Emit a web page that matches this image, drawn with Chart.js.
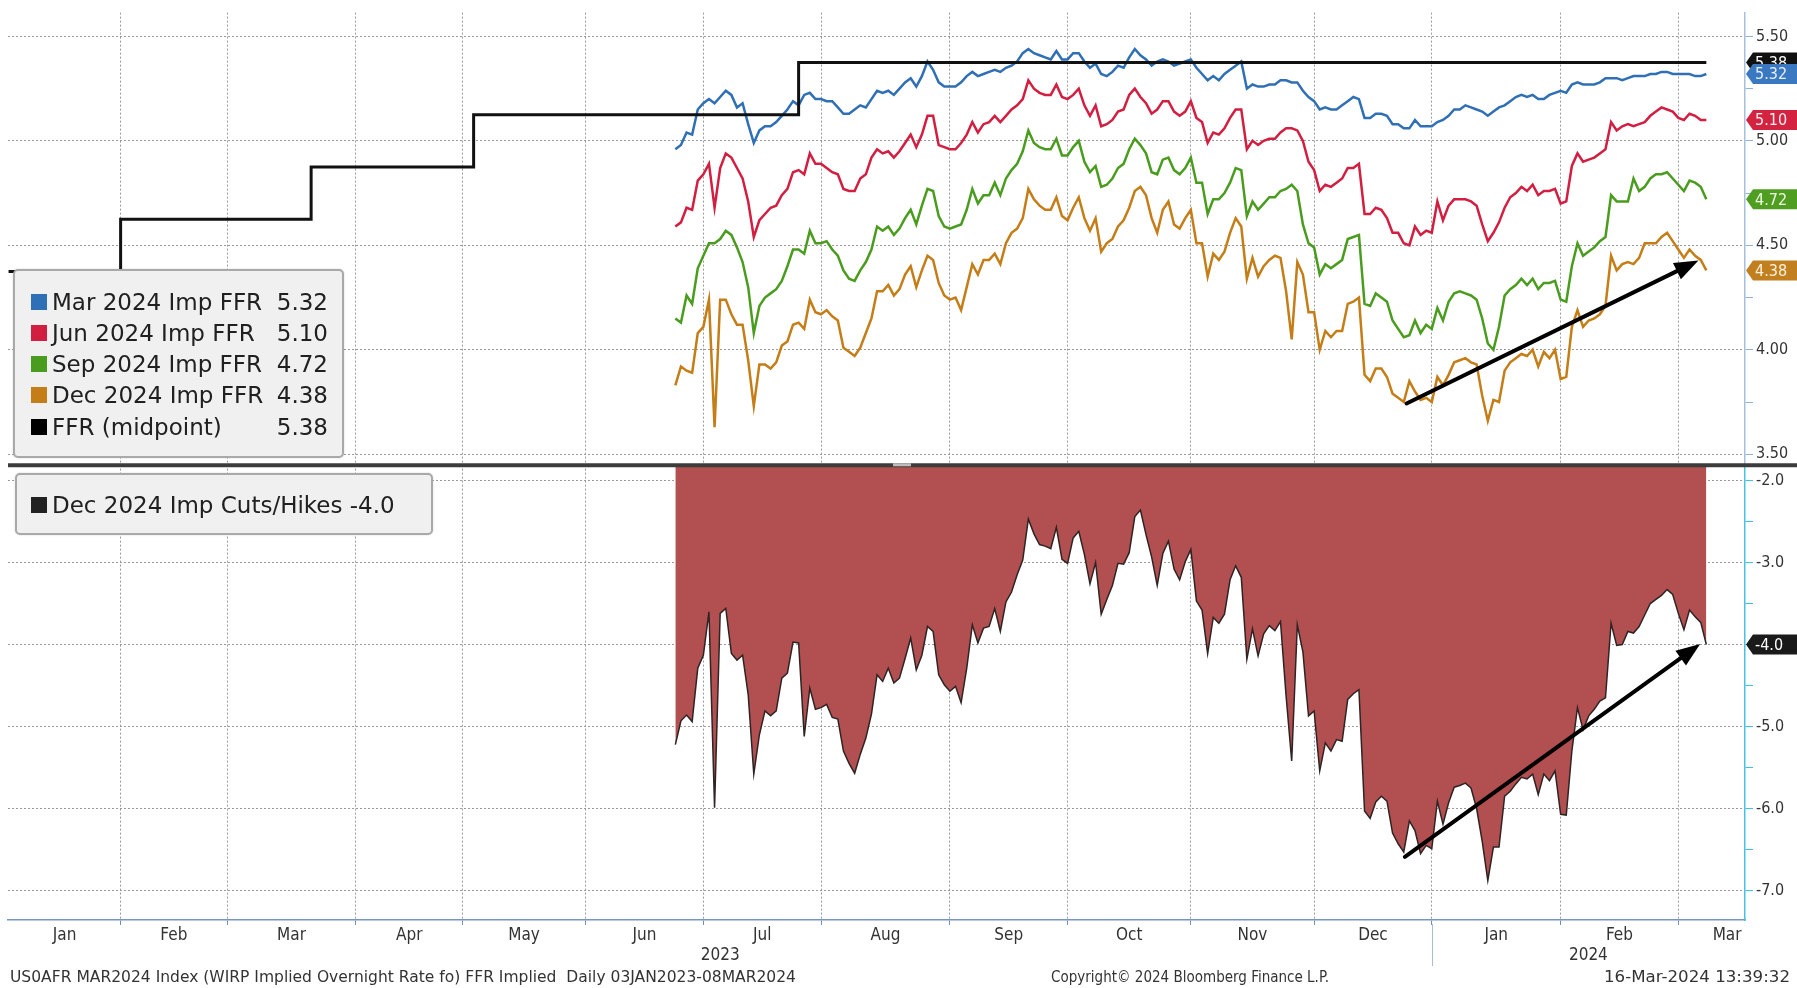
<!DOCTYPE html>
<html>
<head>
<meta charset="utf-8">
<title>WIRP Implied FFR</title>
<script src="https://cdn.jsdelivr.net/npm/chart.js@4.4.1/dist/chart.umd.min.js"></script>
<style>
  html, body { margin:0; padding:0; background:#ffffff; }
  #wrap { position:relative; width:1797px; height:988px; overflow:hidden; background:#fff; }
  #chart { position:absolute; left:0; top:0; }
  .legend { position:absolute; box-sizing:border-box; background:#f0f0f0; border:2px solid #a9a9a9; border-radius:5px;
            box-shadow:0 0 2px rgba(0,0,0,0.18); font-family:"DejaVu Sans", sans-serif; font-size:23px; color:#202020; }
  .row { position:absolute; height:31px; display:flex; align-items:center; white-space:nowrap; }
  .sw { width:16px; height:16px; margin-right:5px; flex:none; }
  .lbl { flex:1; }
  .val { flex:none; }
  .foot { position:absolute; top:968px; height:18px; line-height:18px; font-family:"DejaVu Sans Condensed","DejaVu Sans",sans-serif;
          font-size:15px; color:#333; white-space:nowrap; transform-origin:0 50%; }
</style>
</head>
<body>
<div id="wrap">
  <canvas id="chart" width="1797" height="988"></canvas>
  <div id="legendTop" class="legend" style="left:13px;top:269px;width:331px;height:189px;"></div>
  <div id="legendBottom" class="legend" style="left:15px;top:473px;width:418px;height:62px;"></div>
  <div class="foot" data-w="786" style="left:10px;">US0AFR MAR2024 Index (WIRP Implied Overnight Rate fo) FFR Implied&nbsp; Daily 03JAN2023-08MAR2024</div>
  <div class="foot" data-w="278" style="left:1051px;">Copyright© 2024 Bloomberg Finance L.P.</div>
  <div class="foot" data-w="186" style="left:1604px;">16-Mar-2024 13:39:32</div>
</div>
<script>
// ---------------- DATA ----------------
// x values are trading-day indices counted from 03-Jan-2023 (= 0)
const monthNames  = ['Jan','Feb','Mar','Apr','May','Jun','Jul','Aug','Sep','Oct','Nov','Dec','Jan','Feb','Mar'];
const monthStarts = [0, 20, 39, 62, 81, 103, 124, 145, 168, 189, 211, 233, 254, 277, 298];
const nextMonthStart = 319;            // 01-Apr-2024
const yearNames  = ['2023', '2024'];
const yearStarts = [0, 254];

// FFR (midpoint) step series
const ffrDays   = [0, 20, 54, 83, 141, 303];
const ffrValues = [4.375, 4.625, 4.875, 5.125, 5.375, 5.375];

// Futures-implied series: daily values starting 26-Jun-2023 (index 119) to 08-Mar-2024 (index 303)
const futuresStartDay = 119;
const marValues = [
4.96,4.98,5.04,5.03,5.15,5.18,5.20,5.18,5.21,5.24,
5.22,5.16,5.18,5.08,4.99,5.05,5.07,5.07,5.09,5.12,
5.15,5.19,5.17,5.22,5.23,5.20,5.20,5.19,5.19,5.16,
5.13,5.13,5.15,5.17,5.16,5.20,5.24,5.23,5.24,5.22,
5.25,5.28,5.30,5.26,5.31,5.38,5.34,5.28,5.26,5.26,
5.26,5.28,5.31,5.33,5.31,5.32,5.33,5.34,5.33,5.35,
5.36,5.38,
5.42,5.44,5.42,5.41,5.40,5.39,5.43,5.39,
5.39,5.42,5.42,5.38,5.35,5.37,5.32,5.31,5.33,5.36,
5.35,5.40,5.44,5.41,5.39,5.36,5.38,5.39,5.38,5.36,
5.37,5.38,5.39,5.35,5.32,5.29,5.31,5.29,5.32,5.34,
5.36,5.38,5.25,5.27,5.26,5.26,5.27,5.27,5.29,5.29,
5.28,5.28,5.24,5.21,5.19,5.15,5.16,5.15,5.15,5.17,
5.19,5.21,5.20,5.11,5.11,
5.13,5.13,5.12,5.08,5.08,
5.06,5.06,5.10,5.07,5.07,5.07,5.09,5.10,5.12,5.15,
5.15,5.17,5.16,5.15,5.14,5.12,5.14,5.16,5.17,5.19,
5.21,5.22,5.21,5.22,5.20,5.20,5.22,5.23,5.24,5.23,
5.27,5.28,5.27,5.27,5.27,5.28,5.30,5.30,5.30,5.29,
5.30,5.31,5.31,5.31,5.32,5.32,5.33,5.33,5.32,5.32,
5.32,5.32,5.31,5.31,5.32];
const junValues = [
4.59,4.61,4.68,4.67,4.81,4.84,4.89,4.68,4.87,4.94,
4.92,4.87,4.82,4.71,4.54,4.62,4.65,4.68,4.69,4.74,
4.77,4.85,4.86,4.84,4.94,4.89,4.89,4.87,4.85,4.84,
4.77,4.76,4.76,4.82,4.84,4.92,4.96,4.94,4.95,4.92,
4.95,4.99,5.03,4.97,5.03,5.12,5.12,4.98,4.97,4.96,
4.96,4.99,5.03,5.09,5.04,5.08,5.09,5.12,5.09,5.12,
5.15,5.17,
5.20,5.29,5.25,5.23,5.22,5.22,5.27,5.21,
5.20,5.22,5.25,5.17,5.12,5.17,5.07,5.08,5.10,5.14,
5.15,5.22,5.25,5.21,5.18,5.13,5.15,5.19,5.19,5.14,
5.12,5.14,5.19,5.11,5.09,4.99,5.04,5.03,5.06,5.11,
5.15,5.15,4.96,5.00,4.98,5.00,5.01,5.01,5.04,5.06,
5.06,5.05,5.00,4.90,4.86,4.76,4.79,4.78,4.80,4.82,
4.87,4.87,4.89,4.65,4.65,
4.68,4.67,4.63,4.56,4.56,
4.51,4.50,4.59,4.55,4.57,4.56,4.71,4.62,4.69,4.72,
4.72,4.72,4.71,4.69,4.60,4.52,4.56,4.61,4.68,4.73,
4.75,4.78,4.76,4.79,4.74,4.76,4.76,4.77,4.70,4.71,
4.88,4.94,4.90,4.91,4.92,4.94,4.96,5.09,5.05,5.07,
5.08,5.07,5.08,5.09,5.12,5.14,5.16,5.15,5.14,5.11,
5.10,5.13,5.12,5.10,5.10];
const sepValues = [
4.15,4.13,4.26,4.22,4.39,4.45,4.51,4.51,4.53,4.57,
4.55,4.49,4.42,4.30,4.08,4.21,4.25,4.27,4.29,4.33,
4.40,4.48,4.48,4.46,4.57,4.51,4.51,4.52,4.48,4.45,
4.38,4.34,4.33,4.38,4.42,4.48,4.59,4.57,4.59,4.55,
4.58,4.63,4.67,4.60,4.69,4.77,4.76,4.64,4.59,4.58,
4.59,4.60,4.67,4.77,4.70,4.74,4.74,4.80,4.74,4.82,
4.86,4.89,
4.95,5.05,4.99,4.97,4.96,4.96,5.01,4.93,
4.93,4.97,5.00,4.90,4.85,4.88,4.78,4.79,4.82,4.87,
4.89,4.96,5.01,4.98,4.94,4.85,4.84,4.91,4.92,4.86,
4.84,4.87,4.92,4.80,4.80,4.65,4.72,4.72,4.75,4.80,
4.87,4.86,4.64,4.71,4.67,4.70,4.73,4.73,4.76,4.77,
4.79,4.76,4.60,4.51,4.49,4.36,4.41,4.39,4.41,4.43,
4.53,4.54,4.55,4.22,4.21,
4.27,4.25,4.23,4.14,4.10,
4.06,4.07,4.14,4.08,4.12,4.10,4.20,4.14,4.23,4.27,
4.28,4.27,4.26,4.24,4.15,4.03,4.00,4.11,4.26,4.29,
4.31,4.34,4.31,4.34,4.29,4.32,4.32,4.33,4.24,4.23,
4.40,4.51,4.45,4.47,4.49,4.52,4.54,4.74,4.71,4.71,
4.71,4.82,4.76,4.78,4.82,4.84,4.84,4.85,4.82,4.79,
4.76,4.81,4.80,4.78,4.72];
const decValues = [
3.83,3.92,3.90,3.89,4.08,4.11,4.24,3.63,4.24,4.24,
4.17,4.12,4.12,3.95,3.73,3.93,3.93,3.91,3.94,4.02,
4.04,4.12,4.13,4.10,4.24,4.18,4.17,4.19,4.16,4.14,
4.01,3.99,3.97,4.01,4.08,4.15,4.28,4.28,4.31,4.26,
4.29,4.36,4.40,4.30,4.38,4.45,4.43,4.32,4.26,4.24,
4.25,4.19,4.30,4.41,4.36,4.43,4.43,4.46,4.41,4.51,
4.56,4.58,
4.63,4.77,4.72,4.69,4.67,4.67,4.73,4.64,
4.62,4.68,4.73,4.63,4.57,4.63,4.47,4.51,4.53,4.59,
4.62,4.68,4.76,4.78,4.74,4.63,4.56,4.67,4.71,4.60,
4.58,4.63,4.67,4.51,4.51,4.35,4.46,4.43,4.47,4.56,
4.63,4.59,4.34,4.44,4.35,4.40,4.43,4.45,4.44,4.28,
4.05,4.42,4.36,4.18,4.18,4.00,4.09,4.06,4.09,4.09,
4.22,4.23,4.25,3.88,3.85,
3.91,3.91,3.87,3.79,3.77,
3.75,3.85,3.80,3.76,3.77,3.75,3.87,3.83,3.88,3.94,
3.95,3.96,3.94,3.93,3.78,3.66,3.76,3.75,3.90,3.94,
3.96,3.98,3.97,4.00,3.92,3.99,3.96,4.00,3.86,3.87,
4.11,4.19,4.11,4.14,4.15,4.17,4.21,4.45,4.38,4.41,
4.42,4.41,4.44,4.51,4.51,4.51,4.54,4.56,4.52,4.48,
4.44,4.48,4.45,4.43,4.38];
// Dec 2024 implied cuts/hikes (number of 25bp moves), same days
const cutsValues = [
-5.22,-4.93,-4.86,-4.94,-4.29,-4.13,-3.60,-5.99,-3.62,-3.56,
-4.11,-4.19,-4.13,-4.61,-5.58,-5.10,-4.81,-4.87,-4.81,-4.41,
-4.35,-3.97,-3.98,-5.12,-4.53,-4.79,-4.77,-4.73,-4.89,-4.91,
-5.30,-5.45,-5.57,-5.34,-5.14,-4.85,-4.37,-4.45,-4.29,-4.47,
-4.41,-4.17,-3.92,-4.31,-4.13,-3.78,-3.84,-4.37,-4.49,-4.57,
-4.51,-4.71,-4.29,-3.76,-3.98,-3.80,-3.78,-3.56,-3.84,-3.48,
-3.36,-3.15,
-2.97,-2.47,-2.65,-2.78,-2.80,-2.83,-2.57,-2.96,
-3.01,-2.70,-2.62,-2.90,-3.26,-3.00,-3.63,-3.45,-3.28,-3.01,
-3.02,-2.88,-2.44,-2.36,-2.66,-2.93,-3.28,-2.89,-2.74,-3.08,
-3.21,-2.99,-2.84,-3.47,-3.58,-4.11,-3.67,-3.74,-3.63,-3.21,
-3.04,-3.18,-4.18,-3.81,-4.14,-3.87,-3.77,-3.83,-3.72,-4.63,
-5.42,-3.76,-4.09,-4.87,-4.81,-5.54,-5.20,-5.30,-5.16,-5.18,
-4.67,-4.60,-4.55,-6.03,-6.12,
-5.92,-5.85,-5.91,-6.30,-6.43,
-6.53,-6.15,-6.27,-6.55,-6.45,-6.49,-5.91,-6.19,-5.93,-5.74,
-5.72,-5.69,-5.75,-6.00,-6.40,-6.88,-6.47,-6.47,-5.85,-5.79,
-5.70,-5.62,-5.64,-5.58,-5.83,-5.58,-5.66,-5.54,-6.07,-6.08,
-5.30,-4.77,-5.04,-4.87,-4.79,-4.69,-4.65,-3.74,-4.01,-4.00,
-3.84,-3.86,-3.78,-3.64,-3.50,-3.45,-3.40,-3.33,-3.39,-3.62,
-3.82,-3.58,-3.66,-3.73,-4.00];

// Axis tick values
const topTickValues    = [3.5, 3.75, 4.0, 4.25, 4.5, 4.75, 5.0, 5.25, 5.5];
const bottomTickValues = [-7, -6.5, -6, -5.5, -5, -4.5, -4, -3.5, -3, -2.5, -2];

// Hand-drawn trend arrows (in data coordinates: [trading day, value])
const arrowTop    = { from: [249.5, 3.743], to: [301.6, 4.427] };
const arrowBottom = { from: [249.2, -6.59], to: [301.9, -3.995] };

// ---------------- STYLES ----------------
const C = { mar:'#2f6fb6', jun:'#d21e40', sep:'#4a9c1e', dec:'#c47d17', ffr:'#111111',
            area:'#b24f50', areaLine:'#2e2424', grid:'#9a9a9a' };
const X_MIN = -0.1, X_MAX = 309.9;
const FONT = '"DejaVu Sans Condensed", "DejaVu Sans", sans-serif';

const toPts = (vals) => vals.map((v, i) => ({ x: futuresStartDay + i, y: v }));
const ffrPts = ffrDays.map((d, i) => ({ x: d, y: ffrValues[i] }));

// x ticks: month boundaries (grid) + month centres & year centres (labels)
const boundarySet = new Set(monthStarts.slice(1));
const labelMap = new Map();
monthStarts.forEach((s, i) => {
  const next = i + 1 < monthStarts.length ? monthStarts[i + 1] : nextMonthStart;
  const c = Math.min((s + next) / 2, X_MAX - 3.2);
  labelMap.set(c, monthNames[i]);
});
yearStarts.forEach((s, i) => {
  const e = i + 1 < yearStarts.length ? yearStarts[i + 1] : X_MAX;
  labelMap.set((s + e) / 2, ['', yearNames[i]]);
});
const xTickValues = [...boundarySet, ...labelMap.keys()].sort((a, b) => a - b);

Chart.defaults.font.family = FONT;

// ---------------- PLUGINS ----------------
const separatorPlugin = {
  id: 'separator',
  afterDatasetsDraw(chart) {
    const { ctx } = chart; const y = chart.scales.y.bottom;
    ctx.save();
    ctx.strokeStyle = '#3c3c3c'; ctx.lineWidth = 4;
    ctx.beginPath(); ctx.moveTo(chart.chartArea.left, y); ctx.lineTo(chart.width, y); ctx.stroke();
    ctx.fillStyle = '#bdbdbd'; ctx.fillRect(893, y - 2, 18, 3);
    ctx.restore();
  }
};
const arrowPlugin = {
  id: 'arrows',
  afterDatasetsDraw(chart) {
    const { ctx } = chart; const xs = chart.scales.x;
    [[arrowTop, 'y'], [arrowBottom, 'y2']].forEach(([a, ax]) => {
      const ys = chart.scales[ax];
      const x1 = xs.getPixelForValue(a.from[0]), y1 = ys.getPixelForValue(a.from[1]);
      const x2 = xs.getPixelForValue(a.to[0]),   y2 = ys.getPixelForValue(a.to[1]);
      const ang = Math.atan2(y2 - y1, x2 - x1), L = 24, W = 9;
      const bx = x2 - L * Math.cos(ang), by = y2 - L * Math.sin(ang);
      ctx.save();
      ctx.strokeStyle = '#000'; ctx.fillStyle = '#000'; ctx.lineWidth = 4; ctx.lineCap = 'round';
      ctx.beginPath(); ctx.moveTo(x1, y1); ctx.lineTo(bx, by); ctx.stroke();
      ctx.beginPath(); ctx.moveTo(x2, y2);
      ctx.lineTo(bx + W * Math.sin(ang), by - W * Math.cos(ang));
      ctx.lineTo(bx - W * Math.sin(ang), by + W * Math.cos(ang));
      ctx.closePath(); ctx.fill();
      ctx.restore();
    });
  }
};
const tagPlugin = {
  id: 'tags',
  afterDraw(chart) {
    const { ctx } = chart; const x0 = chart.chartArea.right + 1; const W = chart.width;
    const tags = [
      { ax:'y',  v: ffrValues[ffrValues.length - 1], bg:'#111111', fg:'#ffffff', d:2 },
      { ax:'y',  v: marValues[marValues.length - 1], bg:'#3a78c2', fg:'#e4efff', d:2 },
      { ax:'y',  v: junValues[junValues.length - 1], bg:'#d42341', fg:'#ffeef0', d:2 },
      { ax:'y',  v: sepValues[sepValues.length - 1], bg:'#4f9e21', fg:'#eeffe4', d:2 },
      { ax:'y',  v: decValues[decValues.length - 1], bg:'#c27f1f', fg:'#fff2de', d:2 },
      { ax:'y2', v: cutsValues[cutsValues.length - 1], bg:'#1a1a1a', fg:'#ffffff', d:1 }
    ];
    ctx.save();
    ctx.font = '16px ' + FONT;
    ctx.textBaseline = 'middle'; ctx.textAlign = 'left';
    tags.forEach(t => {
      const y = chart.scales[t.ax].getPixelForValue(t.v);
      ctx.fillStyle = t.bg;
      ctx.beginPath();
      ctx.moveTo(x0, y); ctx.lineTo(x0 + 7, y - 10); ctx.lineTo(W, y - 10);
      ctx.lineTo(W, y + 10); ctx.lineTo(x0 + 7, y + 10); ctx.closePath(); ctx.fill();
      ctx.fillStyle = t.fg;
      ctx.fillText(t.v.toFixed(t.d), x0 + 9, y + 1);
    });
    // year divider under the axis
    const xd = chart.scales.x.getPixelForValue(yearStarts[1]);
    ctx.strokeStyle = '#a9bdd3'; ctx.lineWidth = 1;
    ctx.beginPath(); ctx.moveTo(Math.round(xd) + 0.5, 924); ctx.lineTo(Math.round(xd) + 0.5, 966); ctx.stroke();
    ctx.restore();
  }
};

// ---------------- CHART ----------------
const lineDs = (label, vals, color, order) => ({
  label, data: toPts(vals), yAxisID: 'y', borderColor: color, backgroundColor: color,
  borderWidth: 2.5, pointRadius: 0, tension: 0, fill: false, order
});

new Chart(document.getElementById('chart'), {
  type: 'line',
  data: {
    datasets: [
      { label: 'FFR (midpoint)', data: ffrPts, yAxisID: 'y', borderColor: C.ffr, borderWidth: 3,
        pointRadius: 0, stepped: 'before', fill: false, order: 0 },
      lineDs('Mar 2024 Imp FFR', marValues, C.mar, 1),
      lineDs('Jun 2024 Imp FFR', junValues, C.jun, 2),
      lineDs('Sep 2024 Imp FFR', sepValues, C.sep, 3),
      lineDs('Dec 2024 Imp FFR', decValues, C.dec, 4),
      { label: 'Dec 2024 Imp Cuts/Hikes', data: toPts(cutsValues), yAxisID: 'y2',
        borderColor: C.areaLine, borderWidth: 1.5, backgroundColor: C.area,
        pointRadius: 0, tension: 0, fill: 'end', order: 5 }
    ]
  },
  options: {
    responsive: false, maintainAspectRatio: false, animation: false,
    layout: { padding: { left: 8, right: 0, top: 8, bottom: 0 } },
    plugins: { legend: { display: false }, tooltip: { enabled: false } },
    scales: {
      x: {
        type: 'linear', position: 'bottom', min: X_MIN, max: X_MAX,
        afterBuildTicks: s => { s.ticks = xTickValues.map(v => ({ value: v })); },
        afterFit: s => { s.height = 68; },
        grid: {
          color: c => (c.tick && boundarySet.has(c.tick.value)) ? C.grid : 'rgba(0,0,0,0)',
          tickColor: c => (c.tick && boundarySet.has(c.tick.value)) ? '#6f90bd' : 'rgba(0,0,0,0)',
          lineWidth: 1, tickLength: 5
        },
        border: { display: true, color: '#7896c0', width: 1.5, dash: [2, 2] },
        ticks: { autoSkip: false, maxRotation: 0, minRotation: 0, padding: 0, color: '#333',
                 font: { size: 17 }, callback: v => labelMap.has(v) ? labelMap.get(v) : '' }
      },
      y: {
        type: 'linear', position: 'right', stack: 'panels', stackWeight: 455,
        min: 3.447, max: 5.614,
        afterBuildTicks: s => { s.ticks = topTickValues.map(v => ({ value: v })); },
        afterFit: s => { s.width = 52; },
        grid: {
          color: c => (c.tick && Math.abs(c.tick.value * 2 - Math.round(c.tick.value * 2)) < 1e-6) ? C.grid : 'rgba(0,0,0,0)',
          tickColor: '#8fb2da', tickLength: 8, lineWidth: 1
        },
        border: { display: true, color: '#a6bfdc', width: 1.5, dash: [2, 2] },
        ticks: { padding: 3, color: '#333', font: { size: 16 },
                 callback: v => (Math.abs(v * 2 - Math.round(v * 2)) < 1e-6) ? v.toFixed(2) : '' }
      },
      y2: {
        type: 'linear', position: 'right', stack: 'panels', stackWeight: 457,
        min: -7.36, max: -1.814,
        afterBuildTicks: s => { s.ticks = bottomTickValues.map(v => ({ value: v })); },
        afterFit: s => { s.width = 52; },
        grid: {
          color: c => (c.tick && Number.isInteger(c.tick.value)) ? C.grid : 'rgba(0,0,0,0)',
          tickColor: '#3fc0e4', tickLength: 8, lineWidth: 1
        },
        border: { display: true, color: '#45c3e6', width: 1.5, dash: [2, 2] },
        ticks: { padding: 3, color: '#333', font: { size: 16 },
                 callback: v => Number.isInteger(v) ? v.toFixed(1) : '' }
      }
    }
  },
  plugins: [separatorPlugin, arrowPlugin, tagPlugin]
});

// ---------------- HTML LEGENDS ----------------
const topItems = [
  { name: 'Mar 2024 Imp FFR', color: C.mar, val: marValues[marValues.length - 1].toFixed(2) },
  { name: 'Jun 2024 Imp FFR', color: C.jun, val: junValues[junValues.length - 1].toFixed(2) },
  { name: 'Sep 2024 Imp FFR', color: C.sep, val: sepValues[sepValues.length - 1].toFixed(2) },
  { name: 'Dec 2024 Imp FFR', color: C.dec, val: decValues[decValues.length - 1].toFixed(2) },
  { name: 'FFR (midpoint)',   color: '#000', val: ffrValues[ffrValues.length - 1].toFixed(2) }
];
const lt = document.getElementById('legendTop');
topItems.forEach((it, i) => {
  const r = document.createElement('div');
  r.className = 'row';
  r.style.left = '16px'; r.style.width = '297px'; r.style.top = (15 + i * 31.3) + 'px';
  r.innerHTML = `<span class="sw" style="background:${it.color}"></span><span class="lbl">${it.name}</span><span class="val">${it.val}</span>`;
  lt.appendChild(r);
});
const lb = document.getElementById('legendBottom');
const rb = document.createElement('div');
rb.className = 'row';
rb.style.left = '14px'; rb.style.top = '14.5px';
rb.innerHTML = `<span class="sw" style="background:#222"></span><span>Dec 2024 Imp Cuts/Hikes ${cutsValues[cutsValues.length - 1].toFixed(1)}</span>`;
lb.appendChild(rb);

// fit footer texts to their measured widths
document.querySelectorAll('.foot').forEach(el => {
  const w = el.getBoundingClientRect().width;
  const target = +el.dataset.w;
  if (w > 0) el.style.transform = `scaleX(${(target / w).toFixed(4)})`;
});
</script>
</body>
</html>
